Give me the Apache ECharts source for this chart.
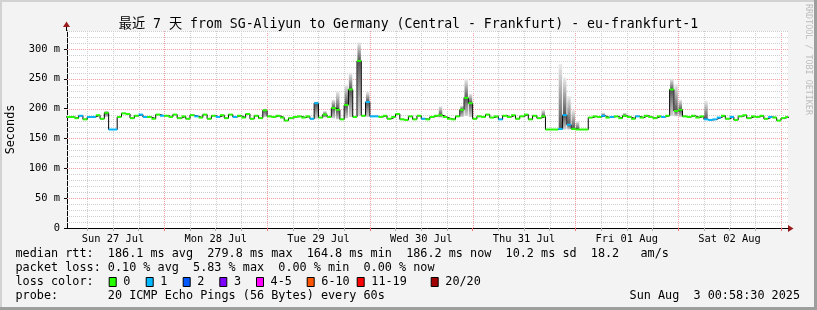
<!DOCTYPE html>
<html><head><meta charset="utf-8">
<script src="https://cdn.jsdelivr.net/npm/echarts@6/dist/echarts.min.js"></script>
<style>html,body{margin:0;padding:0;background:#f3f3f3}#c{width:817px;height:310px}</style>
</head><body><div id="c"></div>
<script>
// hours counted from Sun 27 Jul 00:00
const titleText = '最近 7 天 from SG-Aliyun to Germany (Central - Frankfurt) - eu-frankfurt-1';
const startHour = 1;
const xMin = 1.28, xMax = 169.64;
const rtt = [
  186,186,184,188,182,186,186,189,183,193,165,165,186,192,191,184,188,190,186,186,183,190,188,
  188,186,190,184,187,183,189,187,185,190,183,188,186,189,184,190,186,188,185,191,183,188,184,197,
  187,186,188,185,180,184,186,187,185,187,183,209,185,190,186,201,198,182,206,232,186,280,188,211,
  187,187,186,188,183,186,191,182,181,187,182,188,183,182,186,188,189,186,183,182,187,198,218,209,
  183,187,186,190,185,187,182,188,186,189,183,187,190,182,188,184,187,165,165,165,166,189,173,166,
  165,165,165,185,187,186,188,185,186,187,184,188,186,183,187,185,188,186,184,187,186,188,232,196,
  198,187,186,188,185,187,182,181,182,185,188,183,186,181,187,189,184,187,186,188,183,186,185,180,184,186
];
const loss1Hours = [4,6,7,11,12,18,19,23,31,36,40,58,59,71,72,73,84,102,116,117,118,126,128,134,140,150,151,152,153,156,165];
// [hour, lowest ping, highest ping]
const smoke = [
  [10,186,196],[47,186,200],[59,183,212],[61,185,196],[63,184,215],[64,182,229],[66,184,240],[67,186,260],
  [69,188,311],[71,186,228],[88,185,204],[93,186,205],[94,188,249],[95,186,225],[112,185,198],
  [116,164,275],[117,165,252],[118,165,221],[119,164,198],[120,164,179],[126,186,193],[131,186,193],
  [142,188,250],[143,187,241],[144,186,215],[150,181,213]
];
const dayLabels = ['Sun 27 Jul','Mon 28 Jul','Tue 29 Jul','Wed 30 Jul','Thu 31 Jul','Fri 01 Aug','Sat 02 Aug'];
const dayLabelHours = [12,36,60,84,108,132,156];
const yTicks = [0,50,100,150,200,250,300];
const yMax = 330;
const lossNames = ['0','1','2','3','4-5','6-10','11-19','20/20'];
const lossColors = ['#26ff00','#00b8ff','#0059ff','#7e00ff','#ff00ff','#ff5500','#ff0000','#a10000'];
const lossBoxX = [108.7,145.7,182.7,219.3,256,306.7,356.7,430.7];
const statsLine = 'median rtt:  186.1 ms avg  279.8 ms max  164.8 ms min  186.2 ms now  10.2 ms sd  18.2   am/s';
const lossLine = 'packet loss: 0.10 % avg  5.83 % max  0.00 % min  0.00 % now';
const probeLine = 'probe:       20 ICMP Echo Pings (56 Bytes) every 60s';
const dateLine = 'Sun Aug  3 00:58:30 2025';

const MONO = '"DejaVu Sans Mono", "Noto Sans CJK SC", monospace';
const chart = echarts.init(document.getElementById('c'), null, {renderer:'canvas', width:817, height:310});

const stepData = rtt.map((v,i)=>[startHour+i, v]);
stepData.push([startHour+rtt.length, rtt[rtt.length-1]]);
const segData = rtt.map((v,i)=>[startHour+i, v, loss1Hours.indexOf(startHour+i)>=0 ? 1 : 0]);
const smokeData = smoke.map(s=>[s[0], s[1], s[2], rtt[s[0]-startHour]]);

// grid lines: [value, orientation (0 vertical / 1 horizontal), major]
const gridData = [];
for (let h = 6; h <= 168; h += 6) gridData.push([h, 0, h%24===0 ? 1 : 0]);
for (let v = 10; v <= 330; v += 10) gridData.push([v, 1, v%50===0 ? 1 : 0]);
const sixHours = []; for (let h = 6; h <= 168; h += 6) sixHours.push(h);
const midnights = [24,48,72,96,120,144,168];

const TXT = '11.8px "DejaVu Sans Mono"';
const graphics = [
  {type:'rect', shape:{x:0,y:0,width:817,height:2}, style:{fill:'#d2d2d2'}},
  {type:'rect', shape:{x:0,y:0,width:2,height:310}, style:{fill:'#d2d2d2'}},
  {type:'rect', shape:{x:0,y:307,width:817,height:3}, style:{fill:'#9e9e9e'}},
  {type:'rect', shape:{x:814,y:0,width:3,height:310}, style:{fill:'#9e9e9e'}},
  {type:'text', x:808, y:4, rotation:-Math.PI/2, style:{text:'RRDTOOL / TOBI OETIKER', font:'8.4px "DejaVu Sans Mono"', fill:'#bdbdbd', align:'left', verticalAlign:'middle'}},
  {type:'text', x:15.5, y:254.3, style:{text:statsLine, font:TXT, fill:'#000', verticalAlign:'middle'}},
  {type:'text', x:15.5, y:268.3, style:{text:lossLine, font:TXT, fill:'#000', verticalAlign:'middle'}},
  {type:'text', x:15.5, y:282.3, style:{text:'loss color:', font:TXT, fill:'#000', verticalAlign:'middle'}},
  {type:'text', x:15.5, y:296.3, style:{text:probeLine, font:TXT, fill:'#000', verticalAlign:'middle'}},
  {type:'text', x:800, y:296.3, style:{text:dateLine, font:TXT, fill:'#000', align:'right', verticalAlign:'middle'}}
];
lossNames.forEach((n,i)=>{
  graphics.push({type:'rect', shape:{x:lossBoxX[i]+0.5,y:277.5,width:7,height:9}, style:{fill:lossColors[i], stroke:'#000', lineWidth:1}});
  graphics.push({type:'text', x:lossBoxX[i]+14.6, y:282.3, style:{text:n, font:TXT, fill:'#000', verticalAlign:'middle'}});
});

const option = {
  backgroundColor:'#f3f3f3',
  animation:false,
  title:{text:titleText, left:'center', top:13, textStyle:{fontFamily:MONO, fontSize:13.2, fontWeight:'normal', color:'#000'}},
  grid:{left:67, right:29, top:31, bottom:82, show:true, backgroundColor:'#fff', borderWidth:0, containLabel:false, outerBoundsMode:'none'},
  xAxis:[{
    type:'value', min:xMin, max:xMax, splitLine:{show:false},
    axisLine:{show:true, onZero:false, lineStyle:{color:'#000', width:1}},
    axisTick:{show:true, customValues:sixHours, length:3, lineStyle:{color:'#b0b0b0'}},
    axisLabel:{customValues:dayLabelHours, formatter:v=>dayLabels[dayLabelHours.indexOf(v)] || '', fontFamily:MONO, fontSize:10.4, color:'#000', margin:6}
  },{
    type:'value', min:xMin, max:xMax, gridIndex:0, position:'bottom', splitLine:{show:false},
    axisLine:{show:false}, axisLabel:{show:false},
    axisTick:{show:true, customValues:midnights, length:3, lineStyle:{color:'#f07070'}}
  }],
  yAxis:{
    type:'value', min:0, max:yMax, splitLine:{show:false},
    axisLine:{show:true, lineStyle:{color:'#000', width:1}},
    axisTick:{show:true, customValues:yTicks, length:3, lineStyle:{color:'#000'}},
    axisLabel:{customValues:yTicks, formatter:v=> v===0 ? '0' : v+' m', fontFamily:MONO, fontSize:10.4, color:'#000', margin:7},
    name:'Seconds', nameLocation:'middle', nameGap:50, nameRotate:90,
    nameTextStyle:{fontFamily:MONO, fontSize:11.8, color:'#000'}
  },
  series:[
    {type:'custom', z:1, silent:true, clip:true, data:gridData,
     renderItem:(params, api)=>{
       const val=api.value(0), orient=api.value(1), major=api.value(2);
       const color = major ? '#f2a0a0' : '#cfcfcf';
       let shape;
       if (orient===0) {
         const a=api.coord([val, yMax]), b=api.coord([val, 0]);
         const x=Math.round(a[0])+0.5;
         shape={x1:x, y1:a[1], x2:x, y2:b[1]};
       } else {
         const a=api.coord([xMin, val]), b=api.coord([xMax, val]);
         const y=Math.round(a[1])+0.5;
         shape={x1:a[0], y1:y, x2:b[0], y2:y};
       }
       return {type:'line', shape:shape, style:{stroke:color, lineWidth:1, lineDash:[1,1]}};
     }},
    {type:'custom', z:2, silent:true, clip:true, data:smokeData,
     renderItem:(params, api)=>{
       const h=api.value(0), lo=api.value(1), hi=api.value(2), med=api.value(3);
       const p1=api.coord([h+0.1,hi]), p2=api.coord([h+0.9,lo]);
       let t=(hi-med)/(hi-lo); t=Math.max(0.01,Math.min(0.99,t));
       return {type:'rect', shape:{x:p1[0], y:p1[1], width:p2[0]-p1[0], height:p2[1]-p1[1]},
         style:{fill:new echarts.graphic.LinearGradient(0,0,0,1,[{offset:0,color:'#ececec'},{offset:t,color:'#555555'},{offset:1,color:'#d0d0d0'}])}};
     }},
    {type:'line', z:3, silent:true, step:'end', symbol:'none', data:stepData, lineStyle:{color:'#000', width:1}},
    {type:'custom', z:4, silent:true, clip:true, data:segData,
     renderItem:(params, api)=>{
       const h=api.value(0), v=api.value(1), l=api.value(2);
       const a=api.coord([h,v]), b=api.coord([h+1,v]);
       return {type:'line', shape:{x1:a[0], y1:a[1], x2:b[0], y2:b[1]}, style:{stroke:lossColors[l], lineWidth:2}};
     }}
  ],
  graphic:graphics
};
chart.setOption(option);

// axis arrows
const o = chart.convertToPixel({gridIndex:0}, [xMin, 0]);
const tp = chart.convertToPixel({gridIndex:0}, [xMin, yMax]);
const rp = chart.convertToPixel({gridIndex:0}, [xMax, 0]);
const ax = Math.round(o[0]) - 0.5, ay = Math.round(o[1]) + 0.5;
graphics.push(
  {type:'line', shape:{x1:ax, y1:tp[1], x2:ax, y2:tp[1]-5}, style:{stroke:'#000', lineWidth:1}},
  {type:'polygon', shape:{points:[[ax-3.5,tp[1]-4],[ax+3.5,tp[1]-4],[ax,tp[1]-9.5]]}, style:{fill:'#9b1c1c'}},
  {type:'polygon', shape:{points:[[rp[0],ay-3.5],[rp[0],ay+3.5],[rp[0]+5.5,ay]]}, style:{fill:'#9b1c1c'}}
);
chart.setOption({graphic:graphics});
</script></body></html>
